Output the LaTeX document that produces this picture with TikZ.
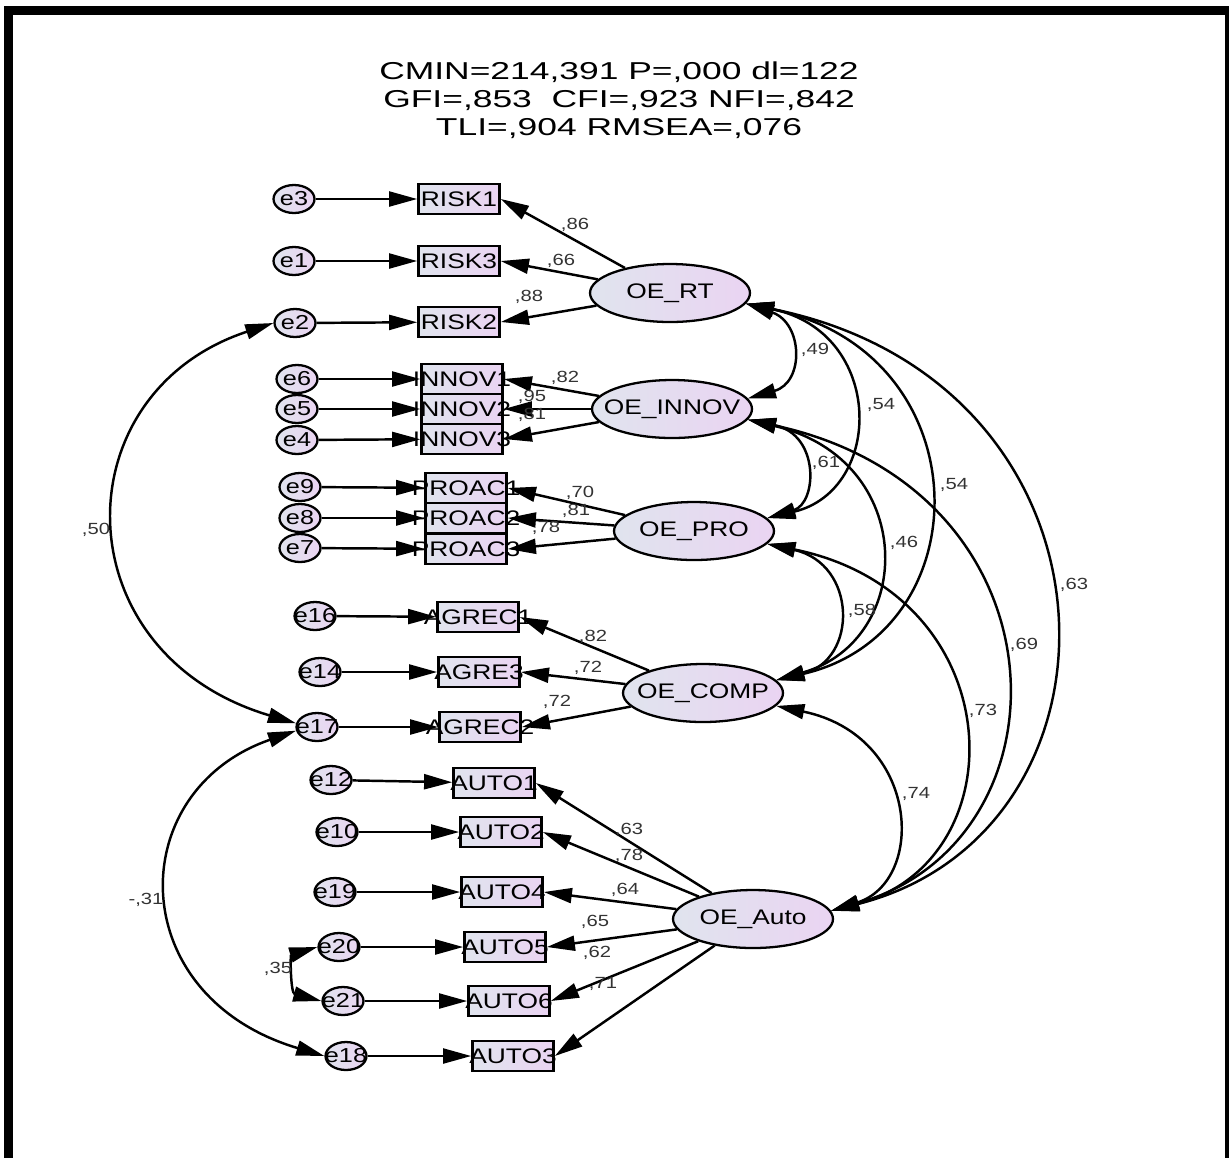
\documentclass[tikz,border=0pt]{standalone}
\usepackage{fontspec}
\setmainfont{Liberation Sans}
\newfontfamily\widefont{Liberation Sans}[FakeStretch=1.25]
\newfontfamily\headfont{Liberation Sans}[FakeStretch=1.45]
\usetikzlibrary{arrows.meta,shapes.geometric}
\definecolor{fillL}{RGB}{224,228,238}
\definecolor{fillR}{RGB}{234,212,242}
\newcommand{\nm}[1]{\makebox[0pt]{#1}}
\tikzset{
  err/.style={ellipse,draw,line width=1.3pt,left color=fillL,right color=fillR,minimum width=0.82cm,minimum height=0.56cm,inner sep=0pt,font=\widefont\fontsize{11.5}{11.5}\selectfont},
  ind/.style={rectangle,draw,line width=1.5pt,left color=fillL,right color=fillR,minimum width=1.62cm,minimum height=0.6cm,inner sep=0pt,font=\widefont\fontsize{12}{12}\selectfont},
  lat/.style={ellipse,draw,line width=1.3pt,left color=fillL,right color=fillR,minimum width=3.2cm,minimum height=1.16cm,inner sep=0pt,font=\widefont\fontsize{12}{12}\selectfont},
  lbl/.style={inner sep=0pt,text=black!80,font=\widefont\fontsize{9.2}{9.2}\selectfont},
  reg/.style={line width=1.4pt,-{Triangle[length=16pt,width=8.5pt]}},
  cov/.style={line width=1.4pt,{Triangle[length=16pt,width=8.5pt]}-{Triangle[length=16pt,width=8.5pt]}}
}

\begin{document}
\begin{tikzpicture}[x=0.02cm,y=-0.02cm]
  \useasboundingbox (0,0) rectangle (1229,1157);
  % frame
  \draw[line width=0.17cm] (8.5,1180) -- (8.5,10.5) -- (1229,10.5) -- (1229,1180);
  % fit indices
  \node[align=center,font=\headfont\fontsize{13.9}{15.9}\selectfont] (fit) at (619,100)
    {CMIN=214,391 P=,000 dl=122\\GFI=,853\ \ CFI=,923 NFI=,842\\TLI=,904 RMSEA=,076};

  % latent variables
  \node[lat] (oeRT) at (670,293) {\nm{OE\_RT}};
  \node[lat] (oeINNOV) at (672,409) {\nm{OE\_INNOV}};
  \node[lat] (oePRO) at (694,531) {\nm{OE\_PRO}};
  \node[lat] (oeCOMP) at (703,693) {\nm{OE\_COMP}};
  \node[lat] (oeAuto) at (753,919) {\nm{OE\_Auto}};

  % observed variables
  \node[ind] (RISK1) at (459,199) {\nm{RISK1}};
  \node[ind] (RISK3) at (459,261) {\nm{RISK3}};
  \node[ind] (RISK2) at (459,322) {\nm{RISK2}};
  \node[ind] (INNOV1) at (462,379) {\nm{INNOV1}};
  \node[ind] (INNOV2) at (462,409) {\nm{INNOV2}};
  \node[ind] (INNOV3) at (462,439) {\nm{INNOV3}};
  \node[ind] (PROAC1) at (466,488) {\nm{PROAC1}};
  \node[ind] (PROAC2) at (466,518) {\nm{PROAC2}};
  \node[ind] (PROAC3) at (466,549) {\nm{PROAC3}};
  \node[ind] (AGREC1) at (478,617) {\nm{AGREC1}};
  \node[ind] (AGRE3) at (479,672) {\nm{AGRE3}};
  \node[ind] (AGREC2) at (480,727) {\nm{AGREC2}};
  \node[ind] (AUTO1) at (494,783) {\nm{AUTO1}};
  \node[ind] (AUTO2) at (501,832) {\nm{AUTO2}};
  \node[ind] (AUTO4) at (502,892) {\nm{AUTO4}};
  \node[ind] (AUTO5) at (505,947) {\nm{AUTO5}};
  \node[ind] (AUTO6) at (509,1001) {\nm{AUTO6}};
  \node[ind] (AUTO3) at (513,1056) {\nm{AUTO3}};

  % error terms
  \node[err] (e3) at (294,199) {\nm{e3}};
  \node[err] (e1) at (294,261) {\nm{e1}};
  \node[err] (e2) at (295,323) {\nm{e2}};
  \node[err] (e6) at (297,379) {\nm{e6}};
  \node[err] (e5) at (297,409) {\nm{e5}};
  \node[err] (e4) at (297,440) {\nm{e4}};
  \node[err] (e9) at (300,487) {\nm{e9}};
  \node[err] (e8) at (300,518) {\nm{e8}};
  \node[err] (e7) at (300,548) {\nm{e7}};
  \node[err] (e16) at (315,616) {\nm{e16}};
  \node[err] (e14) at (320,672) {\nm{e14}};
  \node[err] (e17) at (317,727) {\nm{e17}};
  \node[err] (e12) at (331,780) {\nm{e12}};
  \node[err] (e10) at (337,832) {\nm{e10}};
  \node[err] (e19) at (335,892) {\nm{e19}};
  \node[err] (e20) at (339,947) {\nm{e20}};
  \node[err] (e21) at (343,1001) {\nm{e21}};
  \node[err] (e18) at (346,1056) {\nm{e18}};

  % errors to indicators
  \draw[reg] (e3) -- (RISK1); \draw[reg] (e1) -- (RISK3); \draw[reg] (e2) -- (RISK2);
  \draw[reg] (e6) -- (INNOV1); \draw[reg] (e5) -- (INNOV2); \draw[reg] (e4) -- (INNOV3);
  \draw[reg] (e9) -- (PROAC1); \draw[reg] (e8) -- (PROAC2); \draw[reg] (e7) -- (PROAC3);
  \draw[reg] (e16) -- (AGREC1); \draw[reg] (e14) -- (AGRE3); \draw[reg] (e17) -- (AGREC2);
  \draw[reg] (e12) -- (AUTO1); \draw[reg] (e10) -- (AUTO2); \draw[reg] (e19) -- (AUTO4);
  \draw[reg] (e20) -- (AUTO5); \draw[reg] (e21) -- (AUTO6); \draw[reg] (e18) -- (AUTO3);

  % loadings
  \draw[reg] (oeRT) -- (RISK1.east); \draw[reg] (oeRT) -- (RISK3.east); \draw[reg] (oeRT) -- (RISK2.east);
  \draw[reg] (oeINNOV) -- (INNOV1.east); \draw[reg] (oeINNOV) -- (INNOV2.east); \draw[reg] (oeINNOV) -- (INNOV3.east);
  \draw[reg] (oePRO) -- (PROAC1.east); \draw[reg] (oePRO) -- (PROAC2.east); \draw[reg] (oePRO) -- (PROAC3.east);
  \draw[reg] (oeCOMP) -- (AGREC1.east); \draw[reg] (oeCOMP) -- (AGRE3.east); \draw[reg] (oeCOMP) -- (AGREC2.east);
  \draw[reg] (oeAuto) -- (AUTO1.east); \draw[reg] (oeAuto) -- (AUTO2.east); \draw[reg] (oeAuto) -- (AUTO4.east);
  \draw[reg] (oeAuto) -- (AUTO5.east); \draw[reg] (oeAuto) -- (AUTO6.east); \draw[reg] (oeAuto) -- (AUTO3.east);
  \node[lbl] (wRISK1) at (575,225) {,86};
  \node[lbl] (wRISK3) at (561,261) {,66};
  \node[lbl] (wRISK2) at (529,297) {,88};
  \node[lbl] (wINNOV1) at (565,378) {,82};
  \node[lbl] (wINNOV2) at (532,397) {,95};
  \node[lbl] (wINNOV3) at (532,415) {,81};
  \node[lbl] (wPROAC1) at (580,493) {,70};
  \node[lbl] (wPROAC2) at (576,511) {,81};
  \node[lbl] (wPROAC3) at (546,528) {,78};
  \node[lbl] (wAGREC1) at (593,637) {,82};
  \node[lbl] (wAGRE3) at (588,668) {,72};
  \node[lbl] (wAGREC2) at (557,702) {,72};
  \node[lbl] (wAUTO1) at (629,830) {,63};
  \node[lbl] (wAUTO2) at (629,856) {,78};
  \node[lbl] (wAUTO4) at (625,890) {,64};
  \node[lbl] (wAUTO5) at (595,922) {,65};
  \node[lbl] (wAUTO6) at (597,953) {,62};
  \node[lbl] (wAUTO3) at (603,984) {,71};

  % covariances between factors
  \draw[cov] (oeRT.-8) .. controls +(57,19) and +(57,-16) .. (oeINNOV.8);
  \draw[cov] (oeRT.-8) .. controls +(139,29) and +(117,-28) .. (oePRO.10);
  \draw[cov] (oeRT.-8) .. controls +(237,49) and +(207,-48) .. (oeCOMP.10);
  \draw[cov] (oeRT.-8) .. controls +(390,79) and +(311,-79) .. (oeAuto.6);
  \draw[cov] (oeINNOV.-8) .. controls +(72,15) and +(50,-15) .. (oePRO.10);
  \draw[cov] (oeINNOV.-8) .. controls +(170,40) and +(140,-40) .. (oeCOMP.10);
  \draw[cov] (oeINNOV.-8) .. controls +(324,70) and +(245,-70) .. (oeAuto.6);
  \draw[cov] (oePRO.-10) .. controls +(90,20) and +(82,-20) .. (oeCOMP.10);
  \draw[cov] (oePRO.-10) .. controls +(245,50) and +(188,-50) .. (oeAuto.6);
  \draw[cov] (oeCOMP.-10) .. controls +(144,30) and +(95,-30) .. (oeAuto.6);
  \node[lbl] (cRTINNOV) at (815,350) {,49};
  \node[lbl] (cRTPRO) at (881,405) {,54};
  \node[lbl] (cINNOVPRO) at (826,463) {,61};
  \node[lbl] (cRTCOMP) at (954,485) {,54};
  \node[lbl] (cINNOVCOMP) at (904,543) {,46};
  \node[lbl] (cRTAuto) at (1074,585) {,63};
  \node[lbl] (cPROCOMP) at (862,611) {,58};
  \node[lbl] (cINNOVAuto) at (1024,645) {,69};
  \node[lbl] (cPROAuto) at (983,711) {,73};
  \node[lbl] (cCOMPAuto) at (916,794) {,74};

  % covariances between errors
  \draw[cov] (e2.west) .. controls +(-213,70) and +(-235,-70) .. (e17.170);
  \draw[cov] (e17.190) .. controls +(-173,60) and +(-202,-60) .. (e18.west);
  \draw[cov] (e20.west) .. controls +(-27,8) and +(-31,-8) .. (e21.west);
  \node[lbl] (ce2e17) at (96,530) {,50};
  \node[lbl] (ce17e18) at (146,900) {-,31};
  \node[lbl] (ce20e21) at (278,969) {,35};
\end{tikzpicture}
\end{document}
